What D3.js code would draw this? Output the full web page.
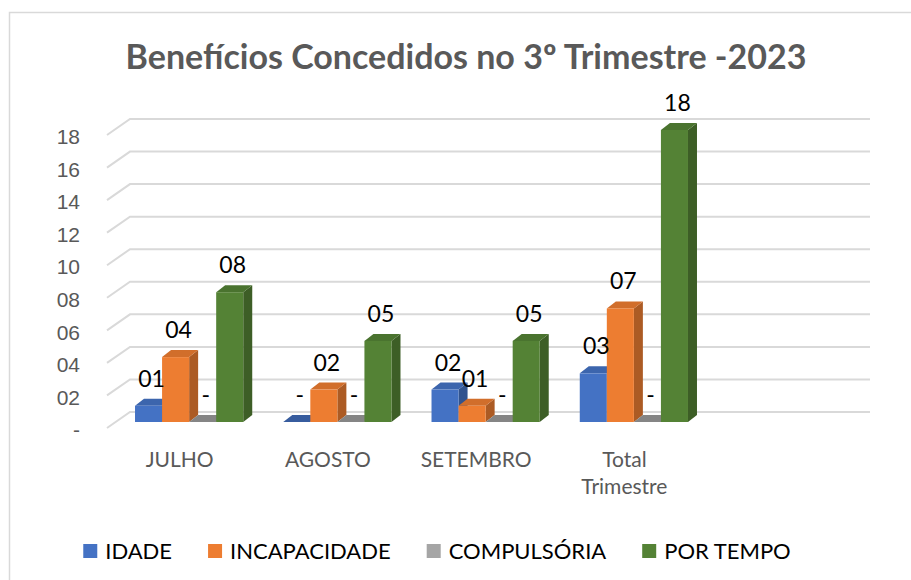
<!DOCTYPE html>
<meta charset="utf-8">
<title>Benefícios Concedidos no 3º Trimestre -2023</title>
<style>
body { margin: 0; background: #fff; }
svg { display: block; font-family: Lato, "Open Sans", sans-serif; }
.tick text { fill: #595959; font-size: 21px; }
.cat { fill: #595959; font-size: 21px; }
.lbl { fill: #000; font-size: 23px; }
.legend text { fill: #000; font-size: 22px; }
</style>
<body>
<svg id="chart" width="911" height="580"></svg>
<script src="https://d3js.org/d3.v7.min.js"></script>
<script>

var months = ["JULHO", "AGOSTO", "SETEMBRO", "Total Trimestre"];
var seriesNames = ["IDADE", "INCAPACIDADE", "COMPULSÓRIA", "POR TEMPO"];
var idade = [1, 0, 2, 3];
var incapacidade = [4, 2, 1, 7];
var compulsoria = [0, 0, 0, 0];
var porTempo = [8, 5, 5, 18];
var yTicks = [0, 2, 4, 6, 8, 10, 12, 14, 16, 18];
var colors = ["#4472C4", "#ED7D31", "#A5A5A5", "#548235"];

var values = [idade, incapacidade, compulsoria, porTempo];
var fmt = function(v) { return v === 0 ? "-" : d3.format("02d")(v); };

var svg = d3.select("#chart");

// chart frame (only top/left edges fall inside the picture)
svg.append("rect")
    .attr("x", 9.5).attr("y", 12.5)
    .attr("width", 1000).attr("height", 1000)
    .attr("fill", "none").attr("stroke", "#d9d9d9").attr("stroke-width", 1.5);

svg.append("text")
    .attr("x", 466).attr("y", 69)
    .attr("text-anchor", "middle")
    .style("font-size", "34px").style("font-weight", "bold").style("fill", "#595959")
    .text("Benefícios Concedidos no 3º Trimestre -2023");

// back wall (gridlines) and front edge scales
var yBack = d3.scaleLinear().domain([0, 18]).range([412, 119]);
var yFront = d3.scaleLinear().domain([0, 18]).range([428, 135]);
var yBar = d3.scaleLinear().domain([0, 18]).range([422, 130]);

var x = d3.scaleBand().domain(months).range([115, 708])
    .paddingInner(0.27).paddingOuter(0.135);
var xs = d3.scaleBand().domain(seriesNames).range([0, x.bandwidth()]);

var grid = svg.append("g").attr("class", "grid");
grid.selectAll("path")
    .data(yTicks)
  .enter().append("path")
    .attr("d", function(d) {
      return "M107," + yFront(d) + "L130," + yBack(d) + "H870";
    })
    .attr("fill", "none").attr("stroke", "#d9d9d9").attr("stroke-width", 2);

var yAxis = d3.axisLeft(yFront).tickValues(yTicks).tickFormat(fmt)
    .tickSize(0).tickPadding(27);
svg.append("g")
    .attr("transform", "translate(107,2)")
    .call(yAxis)
    .call(function(g) { g.select(".domain").remove(); })
    .selectAll("text").attr("font-family", null).attr("font-size", null);

// 3D bars
var dx = 9, dy = 7;
var base = yBar(0);
seriesNames.forEach(function(s, si) {
  var c = d3.color(colors[si]);
  var g = svg.append("g").attr("class", "series");
  var bars = g.selectAll("g").data(months).enter().append("g");
  bars.each(function(m, i) {
    var v = values[si][i];
    var x0 = x(m) + xs(s), w = xs.bandwidth(), yt = yBar(v);
    var sel = d3.select(this);
    sel.append("path")
        .attr("d", "M" + (x0 + w) + "," + yt + "L" + (x0 + w + dx) + "," + (yt - dy) +
          "L" + (x0 + w + dx) + "," + (base - dy) + "L" + (x0 + w) + "," + base + "Z")
        .attr("fill", c.darker(0.9));
    sel.append("path")
        .attr("d", "M" + x0 + "," + yt + "L" + (x0 + dx) + "," + (yt - dy) +
          "L" + (x0 + w + dx) + "," + (yt - dy) + "L" + (x0 + w) + "," + yt + "Z")
        .attr("fill", v === 0 ? c.darker(0.6) : c.darker(0.35));
    sel.append("rect")
        .attr("x", x0).attr("y", yt)
        .attr("width", w).attr("height", base - yt)
        .attr("fill", c);
  });
});

// data labels
seriesNames.forEach(function(s, si) {
  svg.append("g").selectAll("text")
      .data(months)
    .enter().append("text")
      .attr("class", "lbl")
      .attr("x", function(m) { return x(m) + xs(s) + xs.bandwidth() / 2 + 3; })
      .attr("y", function(m, i) { return yBar(values[si][i]) - 19; })
      .attr("text-anchor", "middle")
      .text(function(m, i) { return fmt(values[si][i]); });
});

// category labels
var cats = svg.append("g").selectAll("text")
    .data(months)
  .enter().append("text")
    .attr("class", "cat")
    .attr("text-anchor", "middle")
    .attr("x", function(m) { return x(m) + x.bandwidth() / 2 - 9.5; })
    .attr("y", 467);
cats.each(function(m) {
  var t = d3.select(this);
  m.split(" ").forEach(function(w, k) {
    t.append("tspan").attr("x", t.attr("x")).attr("dy", k ? 27 : 0).text(w);
  });
});

// legend
var legend = svg.append("g").attr("class", "legend");
var items = legend.selectAll("g")
    .data(seriesNames)
  .enter().append("g");
items.append("rect")
    .attr("y", 544).attr("width", 14).attr("height", 14)
    .attr("fill", function(d, i) { return colors[i]; });
items.append("text")
    .attr("x", 22).attr("y", 559)
    .text(function(d) { return d; });
var cx = 0;
items.each(function() {
  var g = d3.select(this);
  g.attr("transform", "translate(" + cx + ",0)");
  cx += 22 + g.select("text").node().getComputedTextLength() + 36;
});
var total = cx - 36;
legend.attr("transform", "translate(" + (437 - total / 2) + ",0)");

</script>
</body>
